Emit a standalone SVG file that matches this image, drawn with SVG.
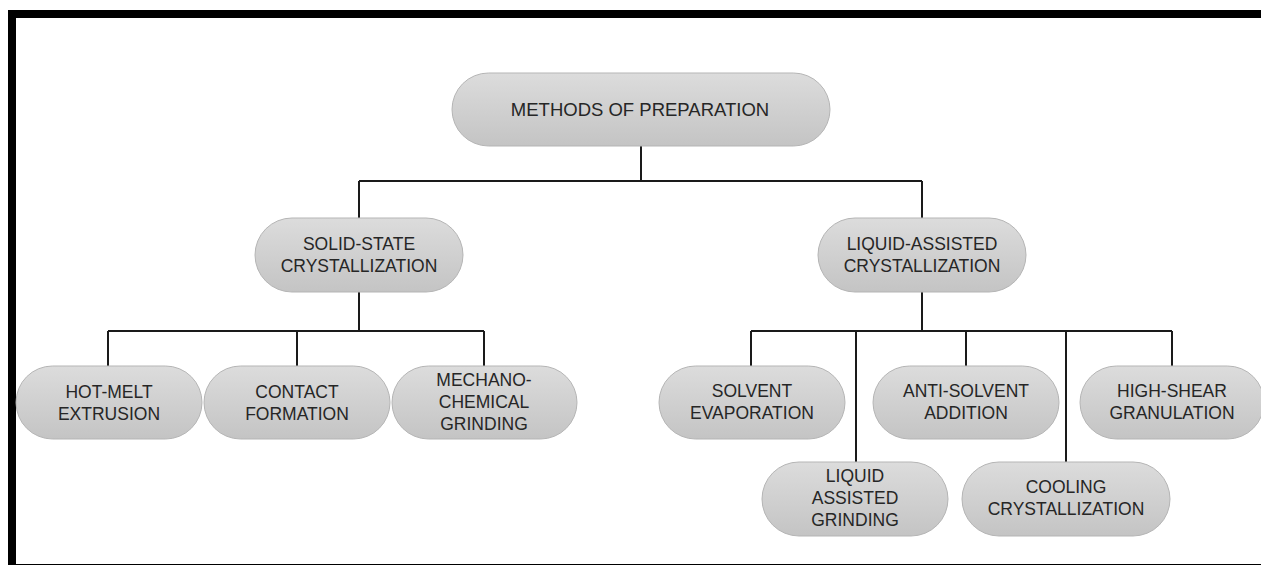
<svg xmlns="http://www.w3.org/2000/svg" width="1261" height="565" viewBox="0 0 1261 565">
<style>
.n{fill:url(#g);stroke:#b5b5b5;stroke-width:1}
.t{font-family:"Liberation Sans",Arial,sans-serif;font-size:17.5px;fill:#262626;text-anchor:middle}
.c{stroke:#1a1a1a;stroke-width:2;fill:none}
</style>
<defs>
<linearGradient id="g" x1="0" y1="0" x2="0" y2="1">
<stop offset="0" stop-color="#dcdcdc"/>
<stop offset="1" stop-color="#c4c4c4"/>
</linearGradient>
</defs>
<rect x="0" y="0" width="1261" height="565" fill="#fff"/>
<g id="frame">
<rect x="8" y="10" width="1253" height="8" fill="#000"/>
<rect x="8" y="10" width="8" height="555" fill="#000"/>
<line x1="8" y1="564.5" x2="1261" y2="564.5" stroke="#000" stroke-width="1"/>
</g>
<g id="connectors" class="c">
<path d="M641 146V181M359 181H922M359 181V218M922 181V218"/>
<path d="M359 292V331M108 331H484M108 331V366M297 331V366M484 331V366"/>
<path d="M922 292V331M751 331H1172M751 331V366M856 331V462M966 331V366M1066 331V462M1172 331V366"/>
</g>
<g id="root"><rect class="n" x="452" y="73" width="378" height="73" rx="36.5"/><text class="t" x="640" y="116" style="font-size:18.5px">METHODS OF PREPARATION</text></g>
<g id="solid"><rect class="n" x="255" y="218" width="208" height="74" rx="37"/><text class="t" x="359" y="250">SOLID-STATE</text><text class="t" x="359" y="272">CRYSTALLIZATION</text></g>
<g id="liquid"><rect class="n" x="818" y="218" width="208" height="74" rx="37"/><text class="t" x="922" y="250">LIQUID-ASSISTED</text><text class="t" x="922" y="272">CRYSTALLIZATION</text></g>
<g id="hotmelt"><rect class="n" x="16" y="366" width="186" height="73" rx="36.5"/><text class="t" x="109" y="398">HOT-MELT</text><text class="t" x="109" y="420">EXTRUSION</text></g>
<g id="contact"><rect class="n" x="204" y="366" width="186" height="73" rx="36.5"/><text class="t" x="297" y="398">CONTACT</text><text class="t" x="297" y="420">FORMATION</text></g>
<g id="mechano"><rect class="n" x="392" y="366" width="185" height="73" rx="36.5"/><text class="t" x="484" y="386">MECHANO-</text><text class="t" x="484" y="408">CHEMICAL</text><text class="t" x="484" y="430">GRINDING</text></g>
<g id="solvent"><rect class="n" x="659" y="366" width="186" height="73" rx="36.5"/><text class="t" x="752" y="397">SOLVENT</text><text class="t" x="752" y="419">EVAPORATION</text></g>
<g id="antisolvent"><rect class="n" x="873" y="366" width="186" height="73" rx="36.5"/><text class="t" x="966" y="397">ANTI-SOLVENT</text><text class="t" x="966" y="419">ADDITION</text></g>
<g id="highshear"><rect class="n" x="1080" y="366" width="184" height="73" rx="36.5"/><text class="t" x="1172" y="397">HIGH-SHEAR</text><text class="t" x="1172" y="419">GRANULATION</text></g>
<g id="lag"><rect class="n" x="762" y="462" width="186" height="74" rx="37"/><text class="t" x="855" y="482">LIQUID</text><text class="t" x="855" y="504">ASSISTED</text><text class="t" x="855" y="526">GRINDING</text></g>
<g id="cooling"><rect class="n" x="962" y="462" width="208" height="74" rx="37"/><text class="t" x="1066" y="493">COOLING</text><text class="t" x="1066" y="515">CRYSTALLIZATION</text></g>
</svg>
